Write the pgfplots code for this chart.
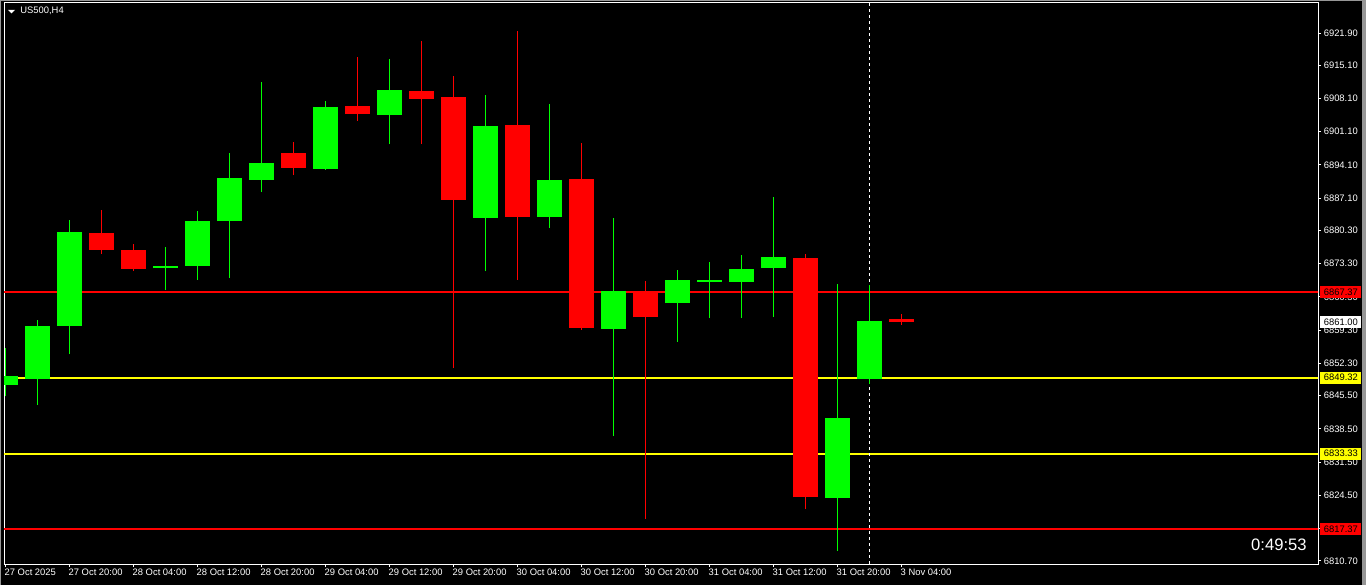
\documentclass[border=0pt]{standalone}
\usepackage{fontspec}
\setmainfont{Liberation Sans}
\usepackage{pgfplots}
\usepackage{pgfplotstable}
\pgfplotsset{compat=1.18}

\definecolor{bull}{RGB}{0,255,0}
\definecolor{bear}{RGB}{255,0,0}
\definecolor{lvl}{RGB}{255,255,0}
\definecolor{edge}{RGB}{150,150,150}

% H4 candles, i = bar index, o h l c
\pgfplotstableread{
i o h l c
0 6847.76 6855.55 6845.44 6849.66
1 6849.09 6861.45 6843.55 6860.19
2 6860.19 6882.51 6854.29 6879.99
5 6872.40 6876.83 6867.77 6872.83
6 6872.83 6884.41 6869.88 6882.30
7 6882.30 6896.63 6870.30 6891.36
8 6890.94 6911.58 6888.41 6894.52
10 6893.26 6907.58 6893.05 6906.31
12 6904.63 6916.42 6898.52 6909.89
15 6882.94 6908.84 6871.77 6902.31
17 6883.15 6906.95 6880.83 6890.94
19 6859.56 6882.94 6837.02 6867.56
21 6865.03 6871.98 6856.82 6869.88
22 6869.46 6873.67 6861.87 6869.88
23 6869.46 6875.14 6861.87 6872.19
24 6872.40 6887.36 6862.08 6874.72
26 6823.96 6869.03 6812.80 6840.81
27 6849.03 6868.82 6847.97 6861.24
}\up

\pgfplotstableread{
i o h l c
3 6879.78 6884.62 6875.35 6876.26
4 6876.20 6877.46 6871.77 6872.19
9 6896.63 6898.94 6891.99 6893.47
11 6906.52 6916.85 6903.37 6904.84
13 6909.68 6920.22 6898.52 6908.00
14 6908.42 6912.84 6851.34 6886.73
16 6902.52 6922.32 6869.88 6883.15
18 6891.15 6898.73 6859.35 6859.77
20 6867.35 6869.67 6819.54 6862.08
25 6874.51 6875.35 6821.64 6824.17
28 6861.66 6862.72 6860.40 6861.00
}\down

\newcommand{\tl}{\fontsize{4.7}{5}\selectfont}

\begin{document}
\begin{tikzpicture}
  % page: 1366x585 px at 0.5pt per px, axis box at px (4..1318, 3..564)
  \fill[black] (-2pt,-10.5pt) rectangle (681pt,282pt);
  \fill[edge] (-2pt,-10.5pt) rectangle (-1.5pt,282pt);
  \fill[edge] (-2pt,281.5pt) rectangle (681pt,282pt);
  \fill[edge] (679pt,-10.5pt) rectangle (681pt,282pt);
  \useasboundingbox (-2pt,-10.5pt) rectangle (681pt,282pt);

  \begin{axis}[
      scale only axis,
      width=657pt, height=280.5pt,
      xmin=-0.04, xmax=41.02,
      ymin=6810.06, ymax=6928.22,
      axis line style={white, line width=0.5pt},
      major tick style={white, line width=0.5pt},
      tick align=outside, major tick length=1.5pt,
      xtick pos=bottom, ytick pos=right,
      yticklabel pos=right,
      xtick={0,2,...,28},
      xticklabels={27 Oct 2025,27 Oct 20:00,28 Oct 04:00,28 Oct 12:00,28 Oct 20:00,29 Oct 04:00,29 Oct 12:00,29 Oct 20:00,30 Oct 04:00,30 Oct 12:00,30 Oct 20:00,31 Oct 04:00,31 Oct 12:00,31 Oct 20:00,3 Nov 04:00},
      ytick={6810.7,6817.5,6824.5,6831.5,6838.5,6845.5,6852.3,6859.3,6866.3,6873.3,6880.3,6887.1,6894.1,6901.1,6908.1,6915.1,6921.9},
      yticklabels={6810.70,6817.50,6824.50,6831.50,6838.50,6845.50,6852.30,6859.30,6866.30,6873.30,6880.30,6887.10,6894.10,6901.10,6908.10,6915.10,6921.90},
      xticklabel style={font=\tl, text=white, anchor=north west, inner sep=0pt, xshift=-0.5pt, yshift=-1pt},
      yticklabel style={font=\tl, text=white, anchor=west, inner sep=0pt, xshift=1.2pt},
      error bars/error mark=none,
      candle/.style={draw=none, mark=none, forget plot,
        error bars/y dir=plus, error bars/y explicit},
    ]
    % levels
    \addplot[bear, line width=1pt, forget plot] coordinates {(-1,6867.37) (42,6867.37)};
    \addplot[bear, line width=1pt, forget plot] coordinates {(-1,6817.37) (42,6817.37)};
    \addplot[lvl, line width=1pt, forget plot] coordinates {(-1,6849.32) (42,6849.32)};
    \addplot[lvl, line width=1pt, forget plot] coordinates {(-1,6833.33) (42,6833.33)};
    % period separator
    \addplot[white, line width=0.5pt, dash pattern=on 1.5pt off 1.5pt, forget plot]
      coordinates {(27,6800) (27,6930)};

    % wicks
    \addplot[candle, error bars/error bar style={draw=bull, line width=0.5pt}]
      table[x=i, y=l, y error plus expr=\thisrow{h}-\thisrow{l}] {\up};
    \addplot[candle, error bars/error bar style={draw=bear, line width=0.5pt}]
      table[x=i, y=l, y error plus expr=\thisrow{h}-\thisrow{l}] {\down};
    % bodies
    \addplot[candle, error bars/error bar style={draw=bull, line width=12.5pt}]
      table[x=i, y=o, y error plus expr=\thisrow{c}-\thisrow{o}] {\up};
    \addplot[candle, error bars/error bar style={draw=bear, line width=12.5pt}]
      table[x=i, y=c, y error plus expr=\thisrow{o}-\thisrow{c}] {\down};

    \coordinate (r1) at ({rel axis cs:1,0} |- {axis cs:0,6867.37});
    \coordinate (r2) at ({rel axis cs:1,0} |- {axis cs:0,6861.00});
    \coordinate (r3) at ({rel axis cs:1,0} |- {axis cs:0,6849.32});
    \coordinate (r4) at ({rel axis cs:1,0} |- {axis cs:0,6833.33});
    \coordinate (r5) at ({rel axis cs:1,0} |- {axis cs:0,6817.37});
  \end{axis}

  \tikzset{plab/.style={anchor=west, xshift=1pt, minimum width=20.5pt,
      minimum height=6pt, inner sep=0pt, text=black, font=\tl}}
  \node[plab, fill=bear] at (r1) {6867.37};
  \node[plab, fill=white] at (r2) {6861.00};
  \node[plab, fill=lvl] at (r3) {6849.32};
  \node[plab, fill=lvl] at (r4) {6833.33};
  \node[plab, fill=bear] at (r5) {6817.37};

  % header and timer
  \fill[white] (2pt,277pt) -- (5.5pt,277pt) -- (3.75pt,275.3pt) -- cycle;
  \node[anchor=west, inner sep=0pt, text=white, font=\tl] at (8pt,276.5pt) {US500,H4};
  \node[anchor=east, inner sep=0pt, text=white, font=\fontsize{8.3}{9}\selectfont] at (651.5pt,9.5pt) {0:49:53};
\end{tikzpicture}
\end{document}
